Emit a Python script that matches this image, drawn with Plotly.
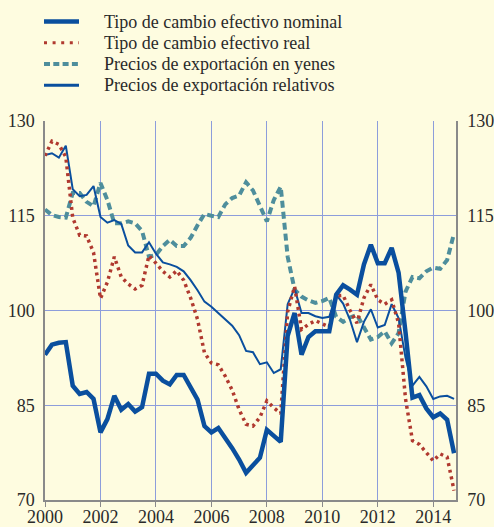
import plotly.graph_objects as go

# Quarterly observations, 2000Q1 - 2014Q4 (x = year + quarter/4)
quarters = [2000 + q / 4 for q in range(60)]

nominal = [93.0, 94.6, 94.9, 95.0, 88.1, 86.8, 87.1, 86.0, 80.7, 82.8,
           86.5, 84.3, 85.2, 84.0, 84.7, 90.0, 90.0, 88.9, 88.3, 89.8,
           89.8, 87.7, 85.9, 81.7, 80.7, 81.4, 79.9, 78.2, 76.4, 74.3,
           75.5, 76.7, 81.1, 80.2, 79.2, 96.0, 99.6, 93.0, 95.8, 96.7,
           96.7, 96.7, 102.5, 104.0, 103.3, 102.5, 107.3, 110.4, 107.5, 107.5,
           109.9, 106.0, 96.5, 86.2, 86.6, 84.5, 83.1, 83.7, 82.7, 77.4]

real = [124.5, 126.8, 126.3, 124.3, 114.7, 111.9, 111.8, 109.2, 101.9, 104.5,
        108.5, 105.3, 104.2, 103.4, 104.0, 108.7, 107.5, 106.2, 105.3, 106.3,
        104.8, 102.0, 98.6, 93.3, 91.7, 91.4, 89.6, 87.4, 84.3, 82.0,
        81.7, 83.1, 85.7, 84.6, 83.7, 99.8, 103.8, 97.0, 97.8, 98.4,
        97.9, 97.4, 102.3, 102.4, 100.0, 98.0, 102.0, 104.1, 101.7, 101.0,
        101.7, 98.0, 86.0, 79.4, 78.8, 77.6, 76.2, 77.3, 76.8, 71.5]

yen_prices = [116.0, 115.1, 114.8, 114.7, 118.6, 118.6, 117.2, 116.5, 120.2, 117.5,
              113.8, 113.8, 114.1, 113.8, 112.6, 108.5, 108.8, 110.2, 111.2, 110.2,
              110.2, 111.5, 113.5, 115.3, 115.0, 114.8, 116.8, 117.8, 118.2, 120.3,
              119.0, 116.7, 114.1, 117.5, 119.6, 108.5, 103.3, 102.2, 101.6, 101.2,
              101.5, 102.0, 99.0, 98.2, 98.9, 99.3, 97.2, 95.4, 95.8, 96.7,
              94.8, 96.4, 103.0, 105.3, 105.1, 106.2, 106.8, 106.6, 108.0, 112.2]

relative = [124.6, 124.9, 124.2, 126.1, 119.2, 118.1, 118.3, 119.7, 114.8, 113.9,
            114.3, 113.7, 110.3, 109.2, 109.2, 110.8, 109.0, 107.6, 107.3, 106.9,
            106.2, 104.8, 103.2, 101.4, 100.6, 99.6, 98.6, 97.6, 96.1, 93.6,
            93.4, 91.5, 91.8, 90.1, 90.7, 101.0, 103.5, 99.6, 99.6, 99.1,
            98.8, 99.0, 102.5, 101.1, 98.5, 95.0, 98.2, 100.2, 97.3, 97.7,
            101.0, 98.8, 92.5, 88.1, 89.5, 88.0, 86.0, 86.4, 86.5, 86.0]

x_ticks = [2000, 2002, 2004, 2006, 2008, 2010, 2012, 2014]
y_ticks = [70, 85, 100, 115, 130]

names = ["Tipo de cambio efectivo nominal", "Tipo de cambio efectivo real",
         "Precios de exportación en yenes", "Precios de exportación relativos"]

BLUE = "#0A4F9E"
RED = "#B0392F"
TEAL = "#4E8E9C"
BG = "#FEFCE0"
GRID = "#8D9DDB"
AXIS = "#8A8A8A"
TXT = "#2A2A2A"
FONT = "Liberation Serif"

fig = go.Figure()
fig.add_trace(go.Scatter(x=quarters, y=yen_prices, mode="lines", name=names[2],
                         line=dict(color=TEAL, width=4, dash="7px,4px")))
fig.add_trace(go.Scatter(x=quarters, y=relative, mode="lines", name=names[3],
                         line=dict(color=BLUE, width=2)))
fig.add_trace(go.Scatter(x=quarters, y=real, mode="lines", name=names[1],
                         line=dict(color=RED, width=3.5, dash="3px,3.8px")))
fig.add_trace(go.Scatter(x=quarters, y=nominal, mode="lines", name=names[0],
                         line=dict(color=BLUE, width=4.5)))
fig.add_trace(go.Scatter(x=[], y=[], yaxis="y2", showlegend=False, hoverinfo="skip"))

# Manual legend (paper coordinates relative to the plot area)
L, R, T, B = 45, 456, 121, 500
def px_x(p):
    return (p - L) / (R - L)
def px_y(p):
    return (B - p) / (B - T)

legend_rows = [21.5, 42.7, 64.0, 85.3]
legend_styles = [
    dict(color=BLUE, width=4.5),
    dict(color=RED, width=3, dash="3px,5.6px"),
    dict(color=TEAL, width=4, dash="6px,3.3px"),
    dict(color=BLUE, width=3),
]
shapes = []
annotations = []
for row, style, name in zip(legend_rows, legend_styles, names):
    shapes.append(dict(type="line", xref="paper", yref="paper",
                       x0=px_x(44), x1=px_x(79), y0=px_y(row), y1=px_y(row),
                       line=style))
    annotations.append(dict(xref="paper", yref="paper", x=px_x(102), y=px_y(row),
                            text=name, showarrow=False, xanchor="left", yanchor="middle",
                            font=dict(family=FONT, size=18, color=TXT)))

fig.update_layout(
    width=494, height=527,
    margin=dict(l=L, r=494 - R, t=T, b=527 - B, autoexpand=False),
    paper_bgcolor=BG, plot_bgcolor=BG,
    showlegend=False,
    shapes=shapes, annotations=annotations,
    font=dict(family=FONT, size=18, color=TXT),
    xaxis=dict(range=[2000, 2014.82], tickvals=x_ticks, showgrid=True,
               gridcolor=GRID, gridwidth=1, showline=True, linecolor=AXIS,
               linewidth=1.5, ticks="outside", ticklen=5, tickcolor=AXIS,
               zeroline=False, automargin=False, ticklabelstandoff=-5,
               tickfont=dict(family=FONT, size=18, color=TXT)),
    yaxis=dict(range=[70, 130], tickvals=y_ticks, showgrid=True, gridcolor=GRID,
               gridwidth=1, showline=True, linecolor=AXIS, linewidth=1.5,
               ticks="", zeroline=False, ticklabelstandoff=5, automargin=False,
               tickfont=dict(family=FONT, size=18, color=TXT)),
    yaxis2=dict(range=[70, 130], tickvals=y_ticks, overlaying="y", side="right",
                showgrid=False, showline=True, linecolor=AXIS, linewidth=1.5,
                ticks="", zeroline=False, ticklabelstandoff=6, automargin=False,
                tickfont=dict(family=FONT, size=18, color=TXT)),
)

fig.write_html("out.html", config={"displayModeBar": False},
               post_script="document.body.style.margin='0';document.body.style.overflow='hidden';")
